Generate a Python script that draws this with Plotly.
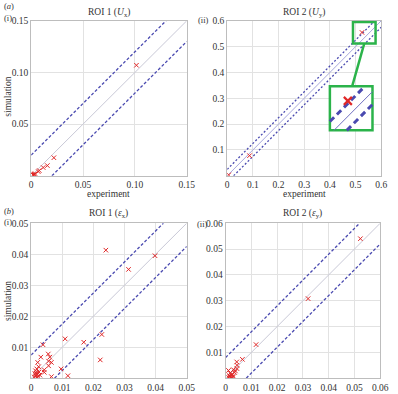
import plotly.graph_objects as go

W, H = 398, 394

# ---------------- data ----------------
# (a)(i) ROI 1 (U_x)
a1_exp = [0.1015, 0.0219, 0.0156, 0.0116, 0.0078, 0.0068, 0.0031, 0.0025, 0.0020, 0.0033, 0.0038, 0.0022]
a1_sim = [0.1070, 0.0175, 0.0099, 0.0080, 0.0051, 0.0041, 0.0013, 0.0010, 0.0006, 0.0016, 0.0021, 0.0004]
# (a)(ii) ROI 2 (U_y)
a2_exp = [0.0060, 0.0870, 0.5250]
a2_sim = [0.0035, 0.0780, 0.5550]
# (b)(i) ROI 1 (eps_x)
b1_exp = [0.0240, 0.0398, 0.0313, 0.0109, 0.0038, 0.0169, 0.0227, 0.0222, 0.0096, 0.0118,
          0.0065, 0.0055, 0.0060, 0.0031, 0.0065, 0.0056, 0.0056, 0.0021, 0.0024, 0.0042,
          0.0042, 0.0018, 0.0012, 0.0015, 0.0020, 0.0025, 0.0010, 0.0018, 0.0022, 0.0014,
          0.0028, 0.0016]
b1_sim = [0.0413, 0.0395, 0.0351, 0.0127, 0.0108, 0.0116, 0.0141, 0.0059, 0.0030, 0.0008,
          0.0005, 0.0078, 0.0068, 0.0068, 0.0051, 0.0055, 0.0040, 0.0051, 0.0037, 0.0027,
          0.0019, 0.0030, 0.0015, 0.0008, 0.0012, 0.0020, 0.0004, 0.0002, 0.0006, 0.0024,
          0.0010, 0.0016]
# (b)(ii) ROI 2 (eps_y)
b2_exp = [0.0523, 0.0320, 0.0118, 0.0065, 0.0043, 0.0044, 0.0044, 0.0030, 0.0011, 0.0015,
          0.0020, 0.0025, 0.0030, 0.0035, 0.0012, 0.0018, 0.0022, 0.0028, 0.0038, 0.0016]
b2_sim = [0.0540, 0.0308, 0.0130, 0.0073, 0.0063, 0.0050, 0.0037, 0.0033, 0.0030, 0.0010,
          0.0005, 0.0015, 0.0008, 0.0022, 0.0002, 0.0020, 0.0012, 0.0003, 0.0028, 0.0006]

tolerances = [0.02, 0.025, 0.0075, 0.008]
axis_max = [0.15, 0.6, 0.05, 0.06]
x_ticks = [[0, 0.05, 0.10, 0.15], [0, 0.1, 0.2, 0.3, 0.4, 0.5, 0.6],
           [0, 0.01, 0.02, 0.03, 0.04, 0.05], [0, 0.01, 0.02, 0.03, 0.04, 0.05, 0.06]]
x_tick_text = [["0", "0.05", "0.10", "0.15"], ["0", "0.1", "0.2", "0.3", "0.4", "0.5", "0.6"],
               ["0", "0.01", "0.02", "0.03", "0.04", "0.05"],
               ["0", "0.01", "0.02", "0.03", "0.04", "0.05", "0.06"]]
titles = ["ROI 1 (<i>U</i><sub>x</sub>)", "ROI 2 (<i>U</i><sub>y</sub>)",
          "ROI 1 (<i>ε</i><sub>x</sub>)", "ROI 2 (<i>ε</i><sub>y</sub>)"]

# ---------------- layout helpers ----------------
boxes = [(30, 16, 190, 173), (231.6, 16, 390, 173), (30, 221, 190, 378), (230, 221, 389, 378)]
FONT = "Liberation Serif"
FS = 9.5
TXT = "#333333"
DASH = "#4a4ab0"
RED = "#e02828"
GREEN = "#2bb34a"


def px(x):
    return x / W


def py(y):
    return 1 - y / H


fig = go.Figure()
exps = [a1_exp, a2_exp, b1_exp, b2_exp]
sims = [a1_sim, a2_sim, b1_sim, b2_sim]
diag_colors = ["#c8c8d6", "#a8a8dc", "#c8c8d6", "#c8c8d6"]
dash_styles = ["3px,2px", "2px,2px", "3px,2px", "3px,2px"]

for i in range(4):
    xa = "x" if i == 0 else f"x{i+1}"
    ya = "y" if i == 0 else f"y{i+1}"
    m = axis_max[i]
    t = tolerances[i]
    fig.add_trace(go.Scatter(x=[0, m], y=[0, m], mode="lines", xaxis=xa, yaxis=ya,
                             line=dict(color=diag_colors[i], width=1), hoverinfo="skip"))
    fig.add_trace(go.Scatter(x=[0, m - t], y=[t, m], mode="lines", xaxis=xa, yaxis=ya,
                             line=dict(color=DASH, width=1.3, dash=dash_styles[i]), hoverinfo="skip"))
    fig.add_trace(go.Scatter(x=[t, m], y=[0, m - t], mode="lines", xaxis=xa, yaxis=ya,
                             line=dict(color=DASH, width=1.3, dash=dash_styles[i]), hoverinfo="skip"))
    fig.add_trace(go.Scatter(x=exps[i], y=sims[i], mode="markers", xaxis=xa, yaxis=ya,
                             marker=dict(symbol="x-thin", size=4.5, line=dict(color=RED, width=1))))

    x0, y0, x1, y1 = boxes[i]
    axcommon = dict(range=[0, m], showgrid=True, gridcolor="#e2e2e2", gridwidth=1,
                    zeroline=False, showline=True, linecolor="#bdbdbd", linewidth=1, mirror=True,
                    ticks="", tickfont=dict(family=FONT, size=FS, color=TXT), fixedrange=True)
    fig.layout[("xaxis" if i == 0 else f"xaxis{i+1}")] = dict(
        axcommon, domain=[px(x0), px(x1)], anchor=ya,
        tickvals=x_ticks[i], ticktext=x_tick_text[i])
    fig.layout[("yaxis" if i == 0 else f"yaxis{i+1}")] = dict(
        axcommon, domain=[py(y1), py(y0)], anchor=xa,
        tickvals=x_ticks[i][1:], ticktext=x_tick_text[i][1:])

# ---------------- inset (a)(ii) ----------------
small = (0.49, 0.498, 0.578, 0.595)   # zoom window in data
big = (0.40, 0.176, 0.566, 0.347)     # inset location in data
scale = 2.0


def tr(x, y):
    return big[0] + scale * (x - small[0]), big[1] + scale * (y - small[1])


fig.add_shape(type="rect", xref="x2", yref="y2", x0=big[0], y0=big[1], x1=big[2], y1=big[3],
              fillcolor="white", line=dict(color=GREEN, width=2.5), layer="between")
fig.add_shape(type="rect", xref="x2", yref="y2", x0=small[0], y0=0.512, x1=small[2], y1=small[3],
              line=dict(color=GREEN, width=2.5), layer="above")
fig.add_shape(type="line", xref="x2", yref="y2", x0=0.534, y0=0.512, x1=0.487, y1=big[3],
              line=dict(color=GREEN, width=2.5), layer="above")


def inset_line(offset):
    # line y = x + offset in original coords, mapped into inset and clipped
    k = (big[1] - scale * small[1]) - (big[0] - scale * small[0]) + scale * offset  # Y = X + k
    xs = max(big[0], big[1] - k)
    xe = min(big[2], big[3] - k)
    return [xs, xe], [xs + k, xe + k]


for off, style, col, wd in [(0, "solid", "#7070c0", 1), (tolerances[1], "dash", DASH, 3),
                            (-tolerances[1], "dash", DASH, 3)]:
    lx, ly = inset_line(off)
    fig.add_trace(go.Scatter(x=lx, y=ly, mode="lines", xaxis="x2", yaxis="y2",
                             line=dict(color=col, width=wd, dash="6px,4px" if style == "dash" else "solid"),
                             hoverinfo="skip"))
ix, iy = tr(a2_exp[-1], a2_sim[-1])
fig.add_trace(go.Scatter(x=[ix], y=[iy], mode="markers", xaxis="x2", yaxis="y2",
                         marker=dict(symbol="x-thin", size=8, line=dict(color=RED, width=2.2))))

# ---------------- text ----------------
ann = []


def text(x, y, s, size=FS, angle=0, xanchor="center"):
    ann.append(dict(x=px(x), y=py(y), xref="paper", yref="paper", text=s, showarrow=False,
                    font=dict(family=FONT, size=size, color=TXT), textangle=angle,
                    xanchor=xanchor, yanchor="middle"))


for i in range(4):
    x0, y0, x1, y1 = boxes[i]
    text((x0 + x1) / 2, y0 - 8 if i < 2 else y0 - 10, titles[i])
text(110, 191, "experiment")
text(311, 191, "experiment")
text(110, 398, "experiment")
text(310, 398, "experiment")
text(6, 93, "simulation", angle=-90)
text(6, 300, "simulation", angle=-90)
text(0, 1, "(<i>a</i>)", size=8.5, xanchor="left")
text(0, 13, "(i)", size=8.5, xanchor="left")
text(199, 15, "(ii)", size=8.5, xanchor="left")
text(0, 209, "(<i>b</i>)", size=8.5, xanchor="left")
text(0, 220, "(i)", size=8.5, xanchor="left")
text(198, 222, "(ii)", size=8.5, xanchor="left")

fig.update_layout(width=W, height=H, margin=dict(l=0, r=0, t=0, b=0), showlegend=False,
                  paper_bgcolor="white", plot_bgcolor="white", annotations=ann,
                  font=dict(family=FONT, color=TXT))
fig.write_html("out.html")
